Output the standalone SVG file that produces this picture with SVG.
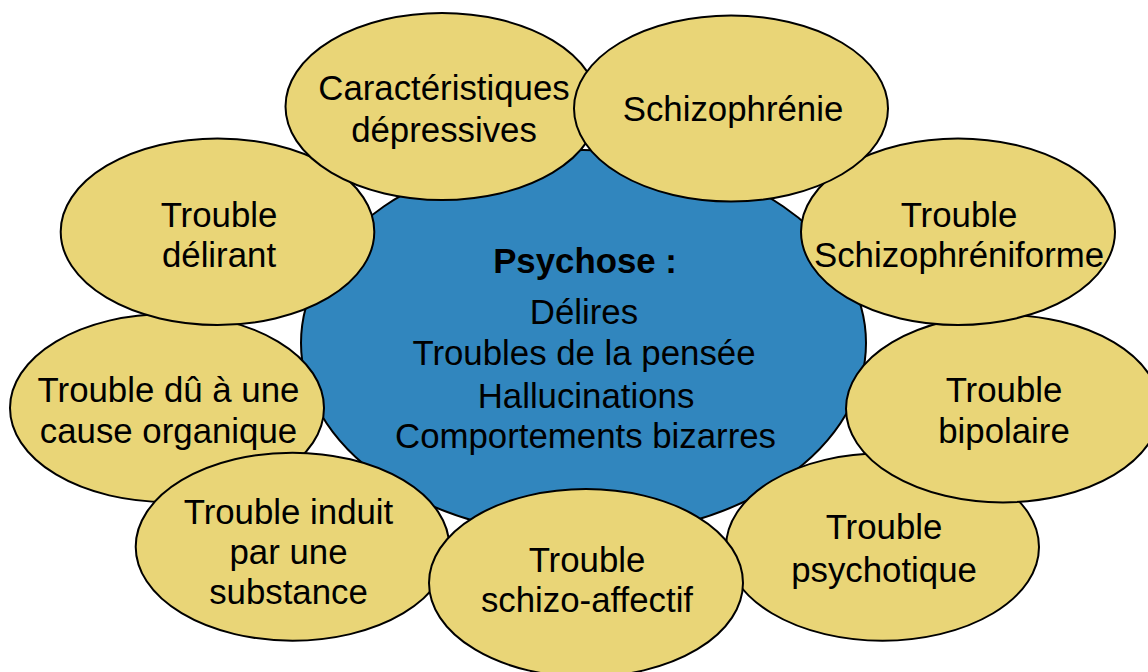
<svg xmlns="http://www.w3.org/2000/svg" width="1148" height="672" viewBox="0 0 1148 672">
<style>
.c{fill:#3186BE;stroke:#000;stroke-width:2}
.n{fill:#E9D577;stroke:#000;stroke-width:2}
text{font-family:"Liberation Sans",Arial,sans-serif;font-size:34.8px;fill:#000;text-anchor:middle}
.m{font-size:34.8px}
.b{font-weight:bold}
</style>
<rect width="1148" height="672" fill="#fff"/>
<g id="connectors"></g>
<g id="center">
<ellipse class="c" cx="583.5" cy="343" rx="282.5" ry="193"/>
<text class="m b" x="585" y="273">Psychose :</text>
<text class="m" x="584" y="324">Délires</text>
<text class="m" x="584" y="365">Troubles de la pensée</text>
<text class="m" x="586" y="407.5">Hallucinations</text>
<text class="m" x="585.5" y="448">Comportements bizarres</text>
</g>
<g id="n-organique">
<ellipse class="n" cx="167" cy="408" rx="157" ry="94"/>
<text x="168.5" y="401.5">Trouble dû à une</text>
<text x="168.5" y="442.5">cause organique</text>
</g>
<g id="n-substance">
<ellipse class="n" cx="292.5" cy="546.7" rx="156.8" ry="94"/>
<text x="288.5" y="524">Trouble induit</text>
<text x="288.5" y="563.5">par une</text>
<text x="288.5" y="604">substance</text>
</g>
<g id="n-psychotique">
<ellipse class="n" cx="882.5" cy="547" rx="156.5" ry="93.7"/>
<text x="884" y="539.3">Trouble</text>
<text x="884" y="581.7">psychotique</text>
</g>
<g id="n-schizoaffectif">
<ellipse class="n" cx="586" cy="583" rx="157" ry="94"/>
<text x="587" y="571.7">Trouble</text>
<text x="587" y="611.7">schizo-affectif</text>
</g>
<g id="n-bipolaire">
<ellipse class="n" cx="1003" cy="408.7" rx="157" ry="93.7"/>
<text x="1004" y="401.7">Trouble</text>
<text x="1004" y="443.3">bipolaire</text>
</g>
<g id="n-schizophreniforme">
<ellipse class="n" cx="958" cy="231.7" rx="157" ry="93.3"/>
<text x="959" y="226.7">Trouble</text>
<text x="959" y="267">Schizophréniforme</text>
</g>
<g id="n-delirant">
<ellipse class="n" cx="217.5" cy="231.7" rx="156.8" ry="93.3"/>
<text x="219" y="226.7">Trouble</text>
<text x="219" y="267">délirant</text>
</g>
<g id="n-depressives">
<ellipse class="n" cx="442" cy="106.5" rx="156.5" ry="93.5"/>
<text x="444" y="100">Caractéristiques</text>
<text x="444" y="142">dépressives</text>
</g>
<g id="n-schizophrenie">
<ellipse class="n" cx="731" cy="108.5" rx="157" ry="93"/>
<text x="733" y="121">Schizophrénie</text>
</g>
</svg>
